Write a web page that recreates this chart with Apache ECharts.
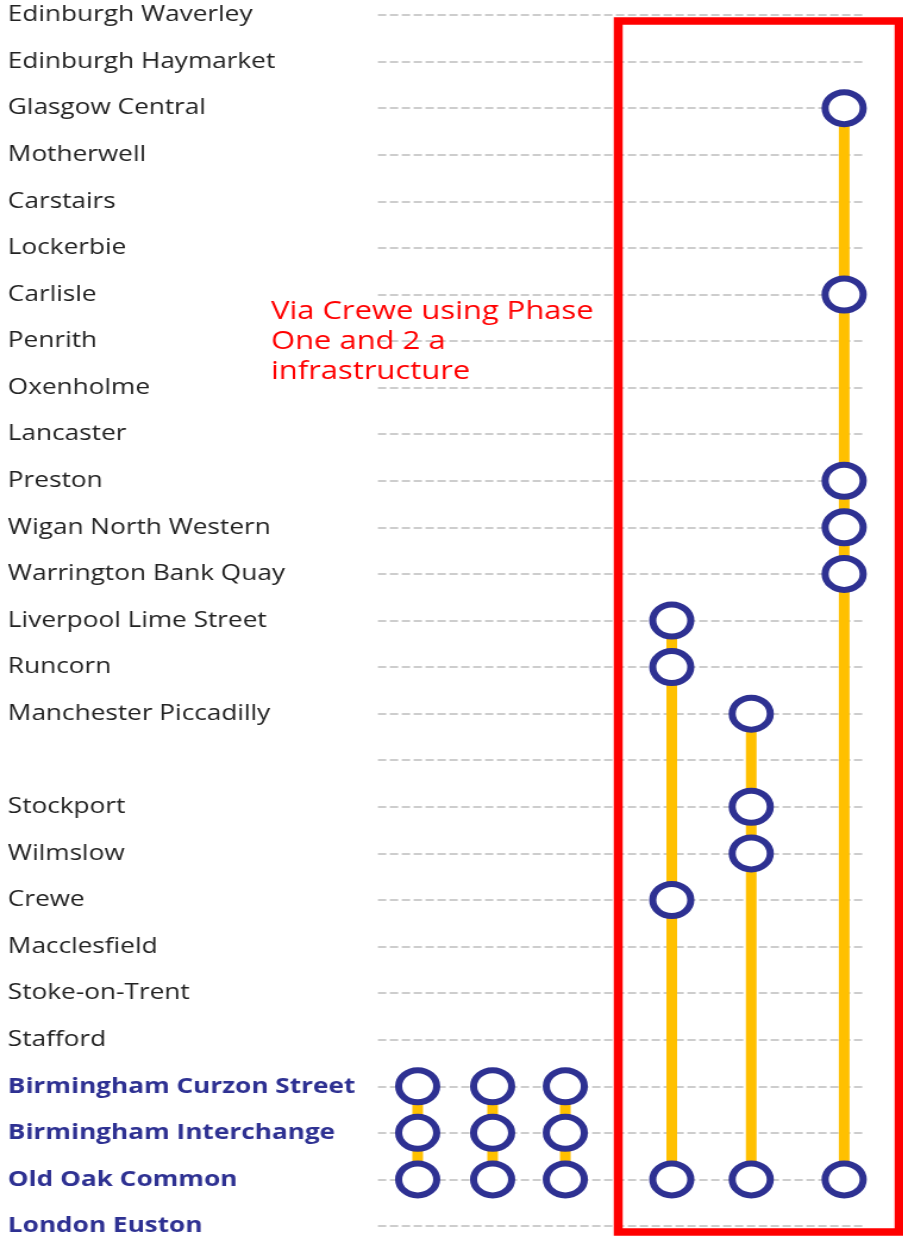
<!DOCTYPE html>
<html><head><meta charset="utf-8">
<script src="https://cdn.jsdelivr.net/npm/echarts@6/dist/echarts.min.js"></script>
<style>html,body{margin:0;padding:0;background:#fff;overflow:hidden}
#c{width:759px;height:1238px;transform:scaleX(1.19);transform-origin:0 0}</style>
</head><body><div id="c"></div>
<script>
const stations = ['Edinburgh Waverley','Edinburgh Haymarket','Glasgow Central','Motherwell','Carstairs','Lockerbie','Carlisle','Penrith','Oxenholme','Lancaster','Preston','Wigan North Western','Warrington Bank Quay','Liverpool Lime Street','Runcorn','Manchester Piccadilly','','Stockport','Wilmslow','Crewe','Macclesfield','Stoke-on-Trent','Stafford','Birmingham Curzon Street','Birmingham Interchange','Old Oak Common','London Euston'];
const hs2Stations = ['Birmingham Curzon Street','Birmingham Interchange','Old Oak Common','London Euston'];
const columnX = [0.53, 1.53, 2.5, 3.92, 4.98, 6.22];
const service1 = ['Birmingham Curzon Street','Birmingham Interchange','Old Oak Common'];
const service2 = ['Birmingham Curzon Street','Birmingham Interchange','Old Oak Common'];
const service3 = ['Birmingham Curzon Street','Birmingham Interchange','Old Oak Common'];
const service4 = ['Liverpool Lime Street','Runcorn','Crewe','Old Oak Common'];
const service5 = ['Manchester Piccadilly','Stockport','Wilmslow','Old Oak Common'];
const service6 = ['Glasgow Central','Carlisle','Preston','Wigan North Western','Warrington Bank Quay','Old Oak Common'];
const services = [service1, service2, service3, service4, service5, service6];
const noteText = 'Via Crewe using Phase\nOne and 2 a\ninfrastructure';

const chart = echarts.init(document.getElementById('c'));
chart.setOption({
  animation: false,
  grid: {left: 317.6, right: 32, top: 15, bottom: 12},
  xAxis: {type: 'value', min: 0, max: 6.5, show: false},
  yAxis: {
    type: 'category', data: stations, inverse: true, boundaryGap: false,
    axisLine: {show: false}, axisTick: {show: false},
    splitLine: {show: true, lineStyle: {type: [7, 3], color: '#bdbdbd', width: 1.5}},
    axisLabel: {
      align: 'left', margin: 311, fontFamily: 'Open Sans', fontSize: 22,
      formatter: v => hs2Stations.includes(v) ? '{b|' + v + '}' : '{a|' + v + '}',
      rich: {
        a: {fontFamily: 'Open Sans', fontSize: 22, color: '#222222'},
        b: {fontFamily: 'Open Sans', fontSize: 22, fontWeight: 'bold', color: '#2e3192'}
      }
    }
  },
  series: services.map((s, i) => ({
    type: 'line',
    data: s.map(st => [columnX[i], st]),
    lineStyle: {color: '#ffc000', width: 9},
    symbol: 'circle', symbolSize: 32,
    itemStyle: {color: '#ffffff', borderColor: '#2e3192', borderWidth: 6},
    z: 3
  })),
  graphic: [
    {type: 'rect', shape: {x: 519.5, y: 21, width: 236, height: 1211}, style: {fill: 'none', stroke: '#ff0000', lineWidth: 7.5}, z: 10},
    {type: 'text', left: 227.7, top: 297, style: {text: noteText, fill: '#ff0000', font: '26px "Open Sans"', lineHeight: 30}, z: 10}
  ]
});
</script></body></html>
